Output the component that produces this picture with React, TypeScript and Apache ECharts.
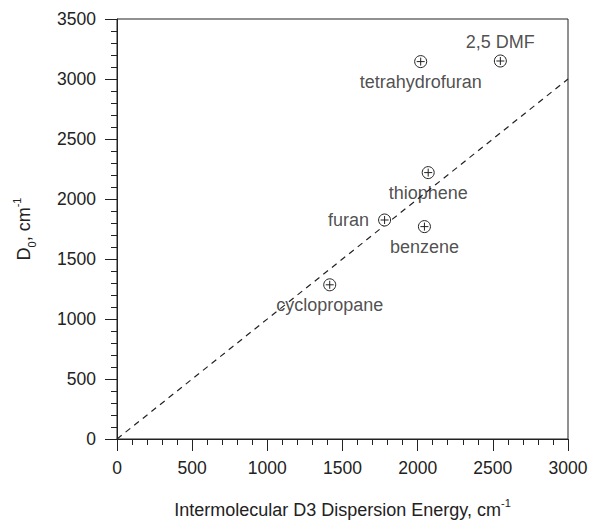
import React, { useEffect, useRef } from "react";
import * as echarts from "echarts";

const compounds = ["cyclopropane", "furan", "benzene", "thiophene", "tetrahydrofuran", "2,5 DMF"];
const d3Energy = [1415, 1780, 2045, 2070, 2020, 2550];
const d0Values = [1285, 1825, 1770, 2220, 3145, 3150];
const refLineX = [0, 3000];
const refLineY = [0, 3000];

const labelPlacement: Record<string, string> = {
  cyclopropane: "bottom",
  furan: "left",
  benzene: "bottom",
  thiophene: "bottom",
  tetrahydrofuran: "bottom",
  "2,5 DMF": "top",
};

const FONT = "'Liberation Sans', Arial, Helvetica, sans-serif";
const INK = "#222";

export default function App() {
  const ref = useRef<HTMLDivElement>(null);
  useEffect(() => {
    if (!ref.current) return;
    const chart = echarts.init(ref.current, null, { renderer: "svg" });
    const pts = compounds.map((n, i) => [d3Energy[i], d0Values[i], n]);
    chart.setOption({
      animation: false,
      backgroundColor: "#fff",
      textStyle: { fontFamily: FONT },
      grid: {
        left: 117,
        right: 22,
        top: 19,
        bottom: 84,
        outerBoundsMode: "none",
        containLabel: false,
        show: true,
        borderColor: INK,
        borderWidth: 1,
        backgroundColor: "transparent",
      },
      xAxis: {
        type: "value",
        min: 0,
        max: 3000,
        interval: 500,
        name: "{a|Intermolecular D3 Dispersion Energy, cm}{sup|-1}",
        nameLocation: "middle",
        nameGap: 58,
        nameTextStyle: {
          rich: {
            a: { fontSize: 18, color: INK, fontFamily: FONT, verticalAlign: "bottom", lineHeight: 22 },
            sup: { fontSize: 11, color: INK, fontFamily: FONT, verticalAlign: "top", lineHeight: 22 },
          },
        },
        axisLine: { show: true, lineStyle: { color: INK, width: 1 } },
        axisTick: { show: true, length: 12, lineStyle: { color: INK, width: 1 } },
        minorTick: { show: true, splitNumber: 5, length: 6, lineStyle: { color: INK, width: 1 } },
        axisLabel: { fontSize: 17.5, color: INK, margin: 20, fontFamily: FONT, formatter: (v: number) => String(v) },
        splitLine: { show: false },
      },
      yAxis: {
        type: "value",
        min: 0,
        max: 3500,
        interval: 500,
        name: "{a|D}{sub|0}{a|, cm}{sup|-1}",
        nameLocation: "middle",
        nameGap: 80,
        nameRotate: 90,
        nameTextStyle: {
          rich: {
            a: { fontSize: 18, color: INK, fontFamily: FONT, verticalAlign: "middle", lineHeight: 26 },
            sub: { fontSize: 11, color: INK, fontFamily: FONT, verticalAlign: "bottom", lineHeight: 26 },
            sup: { fontSize: 11, color: INK, fontFamily: FONT, verticalAlign: "top", lineHeight: 26 },
          },
        },
        axisLine: { show: true, lineStyle: { color: INK, width: 1 } },
        axisTick: { show: true, length: 12, lineStyle: { color: INK, width: 1 } },
        minorTick: { show: true, splitNumber: 5, length: 6, lineStyle: { color: INK, width: 1 } },
        axisLabel: { fontSize: 17.5, color: INK, margin: 21, fontFamily: FONT, formatter: (v: number) => String(v) },
        splitLine: { show: false },
      },
      series: [
        {
          type: "line",
          data: refLineX.map((x, i) => [x, refLineY[i]]),
          symbol: "none",
          lineStyle: { color: INK, width: 1.2, type: [6, 5] },
          silent: true,
          z: 1,
        },
        {
          type: "custom",
          data: pts,
          z: 3,
          renderItem: (params: any, api: any) => {
            const c = api.coord([api.value(0), api.value(1)]);
            const r = 6;
            const a = 4;
            return {
              type: "group",
              children: [
                { type: "circle", shape: { cx: c[0], cy: c[1], r }, style: { fill: "#fff", stroke: INK, lineWidth: 1 } },
                { type: "line", shape: { x1: c[0] - a, y1: c[1], x2: c[0] + a, y2: c[1] }, style: { stroke: INK, lineWidth: 1 } },
                { type: "line", shape: { x1: c[0], y1: c[1] - a, x2: c[0], y2: c[1] + a }, style: { stroke: INK, lineWidth: 1 } },
              ],
            };
          },
        },
        {
          type: "scatter",
          symbolSize: 1,
          itemStyle: { color: "transparent" },
          z: 4,
          data: compounds.map((n, i) => ({
            value: [d3Energy[i], d0Values[i]],
            name: n,
            label: {
              show: true,
              position: labelPlacement[n],
              distance: labelPlacement[n] === "left" ? 15 : labelPlacement[n] === "top" ? 10 : 11,
              formatter: n,
              fontSize: 18,
              color: INK,
              fontFamily: FONT,
            },
          })),
        },
      ],
    });
    return () => chart.dispose();
  }, []);
  return <div ref={ref} style={{ position: "fixed", left: 0, top: 0, width: 590, height: 523 }} />;
}
